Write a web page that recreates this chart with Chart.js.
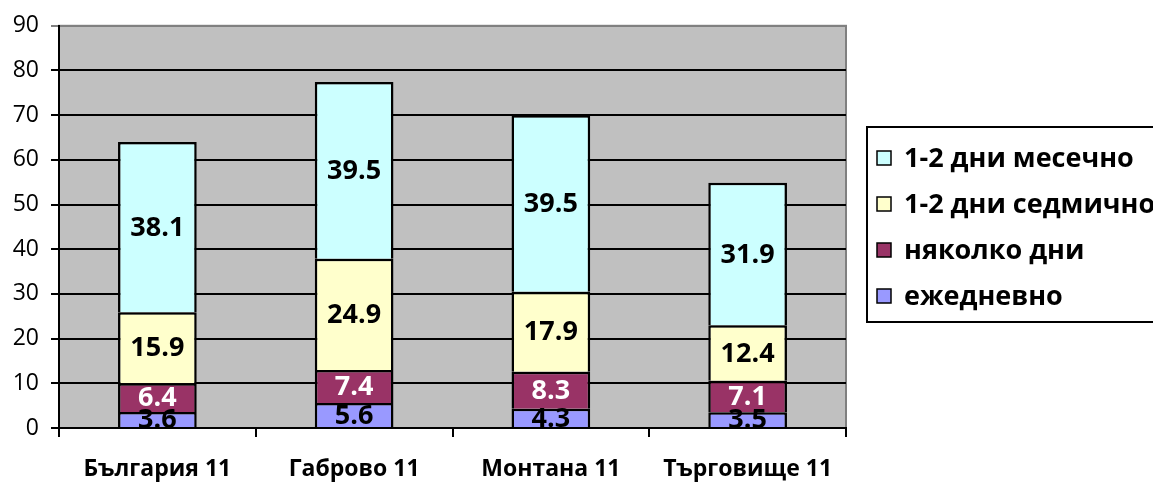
<!DOCTYPE html>
<html>
<head>
<meta charset="utf-8">
<script src="https://cdn.jsdelivr.net/npm/chart.js@4/dist/chart.umd.min.js"></script>
<style>
  body { margin: 0; background: #fff; }
  #wrap { width: 1153px; height: 486px; position: relative; }
</style>
</head>
<body>
<div id="wrap"><canvas id="myChart"></canvas></div>
<script>
// Données
const categories = ['България 11', 'Габрово 11', 'Монтана 11', 'Търговище 11'];
const seriesNames = ['ежедневно', 'няколко дни', '1-2 дни седмично', '1-2 дни месечно'];
const dailyValues = [3.6, 5.6, 4.3, 3.5];
const severalValues = [6.4, 7.4, 8.3, 7.1];
const weeklyValues = [15.9, 24.9, 17.9, 12.4];
const monthlyValues = [38.1, 39.5, 39.5, 31.9];
const yTicks = [0, 10, 20, 30, 40, 50, 60, 70, 80, 90];

const fillColors = ['#9999FF', '#993366', '#FFFFCC', '#CCFFFF'];
const labelColors = ['#000', '#fff', '#000', '#000'];
const FONT = '"Open Sans", "Noto Sans", sans-serif';

// Fond gris de la zone de tracé
const plotBackground = {
    id: 'plotBackground',
    beforeDraw(chart) {
        const { ctx, chartArea: a } = chart;
        ctx.save();
        ctx.fillStyle = '#C0C0C0';
        ctx.fillRect(a.left, a.top, a.right - a.left, a.bottom - a.top);
        ctx.strokeStyle = '#808080';
        ctx.lineWidth = 2;
        ctx.strokeRect(a.left, a.top, a.right - a.left, a.bottom - a.top);
        ctx.restore();
    }
};

// Étiquettes des valeurs au centre des segments
const segmentLabels = {
    id: 'segmentLabels',
    afterDatasetsDraw(chart) {
        const { ctx, chartArea: a } = chart;
        ctx.save();
        ctx.beginPath();
        ctx.rect(a.left, a.top, a.right - a.left, a.bottom - a.top);
        ctx.clip();
        ctx.font = 'bold 27px ' + FONT;
        ctx.textAlign = 'center';
        ctx.textBaseline = 'middle';
        chart.data.datasets.forEach((ds, i) => {
            const meta = chart.getDatasetMeta(i);
            ctx.fillStyle = labelColors[i];
            meta.data.forEach((bar, j) => {
                const y = (bar.y + bar.base) / 2;
                ctx.fillText(ds.data[j].toFixed(1), bar.x, y + 1);
            });
        });
        ctx.restore();
    }
};

// Légende encadrée à droite
const boxLegend = {
    id: 'boxLegend',
    afterDraw(chart) {
        const { ctx } = chart;
        ctx.save();
        ctx.strokeStyle = '#000';
        ctx.lineWidth = 2;
        ctx.strokeRect(867, 127, 320, 195);
        ctx.font = 'bold 27px ' + FONT;
        ctx.textBaseline = 'middle';
        ctx.textAlign = 'left';
        const order = [3, 2, 1, 0];
        order.forEach((idx, k) => {
            const y = 158 + k * 46;
            ctx.fillStyle = fillColors[idx];
            ctx.fillRect(877, y - 7, 14, 14);
            ctx.lineWidth = 1.5;
            ctx.strokeRect(877, y - 7, 14, 14);
            ctx.fillStyle = '#000';
            ctx.fillText(seriesNames[idx], 904, y + 1);
        });
        ctx.restore();
    }
};

const seriesValues = [dailyValues, severalValues, weeklyValues, monthlyValues];

const ctx = document.getElementById('myChart').getContext('2d');
new Chart(ctx, {
    type: 'bar',
    data: {
        labels: categories,
        datasets: seriesValues.map((vals, i) => ({
            label: seriesNames[i],
            data: vals,
            backgroundColor: fillColors[i],
            borderColor: '#000',
            borderWidth: 2.5,
            borderSkipped: 'start',
            barPercentage: 0.4,
            categoryPercentage: 1
        }))
    },
    options: {
        responsive: true,
        maintainAspectRatio: false,
        animation: false,
        layout: { padding: { top: 20, right: 307, bottom: 0, left: 0 } },
        plugins: {
            legend: { display: false },
            tooltip: { enabled: false }
        },
        scales: {
            x: {
                stacked: true,
                offset: true,
                afterFit(axis) { axis.height = 58; },
                grid: {
                    offset: true,
                    drawOnChartArea: false,
                    color: '#000',
                    lineWidth: 2,
                    tickLength: 9
                },
                border: { color: '#000', width: 2 },
                ticks: {
                    color: '#000',
                    font: { family: FONT, size: 23, weight: 'bold' },
                    padding: 19
                }
            },
            y: {
                stacked: true,
                min: 0,
                max: 90,
                afterFit(axis) { axis.width = 59; },
                afterBuildTicks(axis) {
                    axis.ticks = yTicks.map(v => ({ value: v }));
                },
                grid: {
                    color: c => (c.tick && c.tick.value === 90 ? '#808080' : '#000'),
                    lineWidth: 2,
                    tickLength: 8
                },
                border: { color: '#000', width: 2 },
                ticks: {
                    color: '#000',
                    font: { family: FONT, size: 23 },
                    padding: 12
                }
            }
        }
    },
    plugins: [plotBackground, segmentLabels, boxLegend]
});
</script>
</body>
</html>
